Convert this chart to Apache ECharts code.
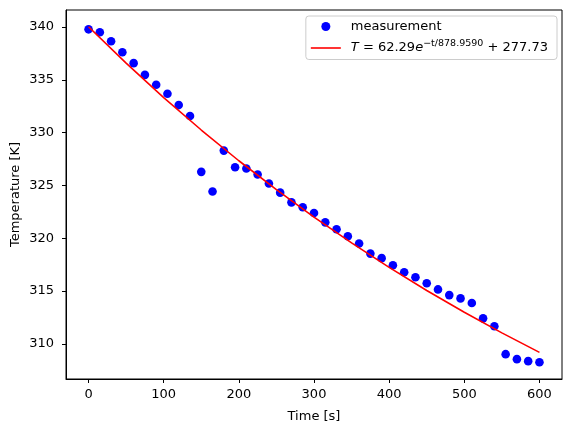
<!DOCTYPE html>
<html>
<head>
<meta charset="utf-8">
<script src="https://cdn.jsdelivr.net/npm/echarts@6/dist/echarts.min.js"></script>
<style>html,body{margin:0;padding:0;background:#fff}#c{width:571px;height:432px}</style>
</head>
<body>
<div id="c"></div>
<script>
// measurement data (time [s], temperature [K])
const timeS = [0,15,30,45,60,75,90,105,120,135,150,165,180,195,210,225,240,255,270,285,300,315,330,345,360,375,390,405,420,435,450,465,480,495,510,525,540,555,570,585,600];
const tempK = [339.78,339.50,338.65,337.61,336.58,335.47,334.53,333.68,332.61,331.57,326.29,324.43,328.30,326.73,326.60,326.04,325.18,324.32,323.40,322.94,322.39,321.51,320.85,320.19,319.50,318.55,318.12,317.45,316.79,316.31,315.74,315.16,314.62,314.31,313.87,312.42,311.67,309.03,308.56,308.37,308.27];
// fitted curve samples (T = 62.29 e^(-t/878.9590) + 277.73)
const fitTime = [0,50,100,150,200,250,300,350,400,450,500,550,600];
const fitTemp = [340.02,336.58,333.32,330.25,327.34,324.60,322.01,319.56,317.25,315.06,313.00,311.05,309.20];
const xTicks = [0,100,200,300,400,500,600];
const yTicks = [310,315,320,325,330,335,340];
const measName = 'measurement';
const fitName = 'T = 62.29e−t/878.9590 + 277.73';

const chart = echarts.init(document.getElementById('c'));
const font = 'DejaVu Sans';
const fs = 13;
const axisCommon = {
  axisLine: {show: true, onZero: false, lineStyle: {color: '#000', width: 1}},
  axisTick: {show: true, length: 4, inside: false, lineStyle: {color: '#000', width: 1}},
  splitLine: {show: false},
  nameMoveOverlap: false,
  nameTextStyle: {fontFamily: font, fontSize: fs, color: '#000'}
};
chart.setOption({
  animation: false,
  backgroundColor: '#fff',
  textStyle: {fontFamily: font},
  grid: {left: 66, right: 9, top: 10, bottom: 53, containLabel: false, outerBoundsMode: 'none',
         show: true, borderColor: '#000', borderWidth: 1, backgroundColor: 'transparent'},
  xAxis: Object.assign({}, axisCommon, {
    type: 'value', min: -30, max: 630,
    name: 'Time [s]', nameLocation: 'middle', nameGap: 31,
    axisTick: Object.assign({}, axisCommon.axisTick, {customValues: xTicks}),
    axisLabel: {customValues: xTicks, fontFamily: font, fontSize: fs, color: '#000', margin: 9}
  }),
  yAxis: Object.assign({}, axisCommon, {
    type: 'value', min: 306.68, max: 341.61,
    name: 'Temperature [K]', nameLocation: 'middle', nameGap: 44,
    axisTick: Object.assign({}, axisCommon.axisTick, {customValues: yTicks}),
    axisLabel: {customValues: yTicks, fontFamily: font, fontSize: fs, color: '#000', margin: 12}
  }),
  legend: {
    right: 14, top: 16, orient: 'vertical',
    itemWidth: 30, itemHeight: 9, itemGap: 6,
    padding: [4, 9, 5, 5],
    borderColor: '#cccccc', borderWidth: 1, borderRadius: 3,
    backgroundColor: 'rgba(255,255,255,0.8)',
    data: [
      {name: measName, icon: 'circle'},
      {name: fitName, icon: 'path://M0,0h30v1.6h-30z', itemStyle: {color: '#ff0000'}}
    ],
    formatter: function (n) {
      if (n === measName) return '{n|measurement}';
      return '{i|T}{n| = 62.29}{i|e}{s|−t/878.9590}{n| + 277.73}';
    },
    textStyle: {
      fontFamily: font, fontSize: fs, color: '#000', padding: [0, 0, 0, 5],
      rich: {
        n: {fontFamily: font, fontSize: fs, color: '#000', lineHeight: 18, verticalAlign: 'middle'},
        i: {fontFamily: font, fontSize: fs, fontStyle: 'italic', color: '#000', lineHeight: 18, verticalAlign: 'middle'},
        s: {fontFamily: font, fontSize: 9.5, color: '#000', lineHeight: 18, verticalAlign: 'top'}
      }
    }
  },
  series: [
    {
      name: measName, type: 'scatter', symbol: 'circle', symbolSize: 8.6,
      itemStyle: {color: '#0000ff', opacity: 1},
      data: timeS.map((t, i) => [t, tempK[i]])
    },
    {
      name: fitName, type: 'line', showSymbol: false, symbol: 'none',
      lineStyle: {color: '#ff0000', width: 1.6},
      itemStyle: {color: '#ff0000'},
      data: fitTime.map((t, i) => [t, fitTemp[i]])
    }
  ]
});
</script>
</body>
</html>
